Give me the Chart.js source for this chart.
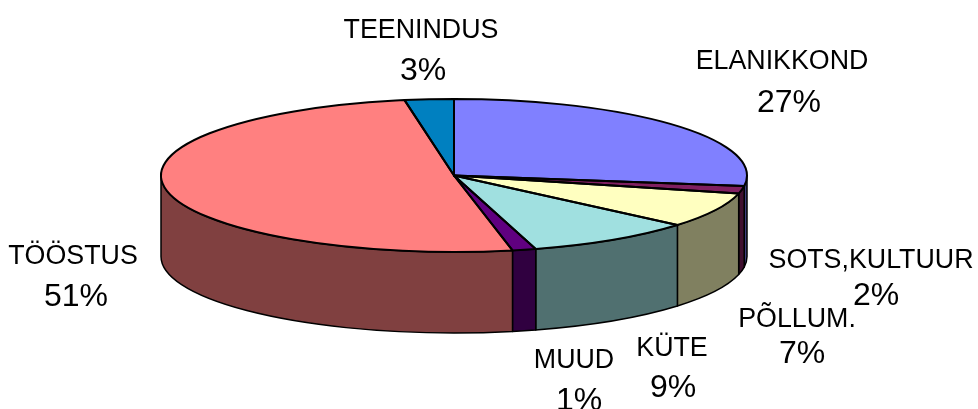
<!DOCTYPE html>
<html>
<head>
<meta charset="utf-8">
<title>Pie</title>
<style>
  html, body { margin: 0; padding: 0; background: #fff; }
  canvas { display: block; }
</style>
<script src="https://cdn.jsdelivr.net/npm/chart.js@4"></script>
</head>
<body>
<canvas id="pieChart" width="978" height="409"></canvas>
<script>
const categories = ["ELANIKKOND", "SOTS,KULTUUR", "PÕLLUM.", "KÜTE", "MUUD", "TÖÖSTUS", "TEENINDUS"];
const shares = [27.2, 1.6, 7.4, 9.3, 1.3, 50.5, 2.7];
const topColors = ["#8080ff", "#802060", "#ffffc0", "#a0e0e0", "#600080", "#ff8080", "#0080c0"];
const wallColors = ["#404080", "#401030", "#808060", "#507070", "#300040", "#804040", "#004060"];

// [centre x, name baseline, percent centre x, percent baseline]
const labelSpots = [
  [782, 69, 789, 112],
  [871, 268, 876, 305],
  [797, 327, 802, 363],
  [672, 356, 673, 397],
  [574, 368, 579, 410],
  [73, 264, 76, 306],
  [421, 38, 423, 80],
];

const radiusX = 293;
const radiusY = 76.5;
const wallDepth = 81;

const pie3d = {
  id: "pie3d",
  beforeDatasetsDraw(chart) {
    const ctx = chart.ctx;
    chart.getDatasetMeta(0).data.forEach((arc, i) => {
      // only the part of the rim facing the viewer shows
      const from = Math.max(arc.startAngle, 0);
      const to = Math.min(arc.endAngle, Math.PI);
      if (to <= from) return;
      ctx.beginPath();
      ctx.ellipse(arc.x, arc.y, radiusX, radiusY, 0, from, to);
      ctx.ellipse(arc.x, arc.y + wallDepth, radiusX, radiusY, 0, to, from, true);
      ctx.closePath();
      ctx.fillStyle = wallColors[i];
      ctx.fill();
      ctx.lineWidth = 1.5;
      ctx.lineJoin = "round";
      ctx.strokeStyle = "#000";
      ctx.stroke();
    });
  },
  beforeDatasetDraw(chart) {
    const ctx = chart.ctx;
    const arc = chart.getDatasetMeta(0).data[0];
    ctx.save();
    ctx.translate(arc.x, arc.y);
    ctx.scale(1, radiusY / radiusX);
    ctx.translate(-arc.x, -arc.y);
  },
  afterDatasetDraw(chart) {
    chart.ctx.restore();
  },
  afterDatasetsDraw(chart) {
    const ctx = chart.ctx;
    chart.getDatasetMeta(0).data.forEach((arc) => {
      ctx.beginPath();
      ctx.moveTo(arc.x, arc.y);
      ctx.ellipse(arc.x, arc.y, radiusX, radiusY, 0, arc.startAngle, arc.endAngle);
      ctx.closePath();
      ctx.lineWidth = 2;
      ctx.lineJoin = "round";
      ctx.strokeStyle = "#000";
      ctx.stroke();
    });

    ctx.fillStyle = "#000";
    ctx.textAlign = "center";
    ctx.textBaseline = "alphabetic";
    categories.forEach((name, i) => {
      const spot = labelSpots[i];
      ctx.font = '26.8px "Liberation Sans"';
      ctx.fillText(name, spot[0], spot[1]);
      ctx.font = '32px "Liberation Sans"';
      ctx.fillText(Math.round(shares[i]) + "%", spot[2], spot[3]);
    });
  },
};

const pieChart = new Chart(document.getElementById("pieChart"), {
  type: "pie",
  data: {
    labels: categories,
    datasets: [
      {
        data: shares,
        backgroundColor: topColors,
        borderWidth: 0,
      },
    ],
  },
  options: {
    responsive: false,
    animation: false,
    radius: radiusX,
    layout: { padding: { right: 70, bottom: 58 } },
    plugins: {
      legend: { display: false },
      tooltip: { enabled: false },
    },
  },
  plugins: [pie3d],
});
</script>
</body>
</html>
